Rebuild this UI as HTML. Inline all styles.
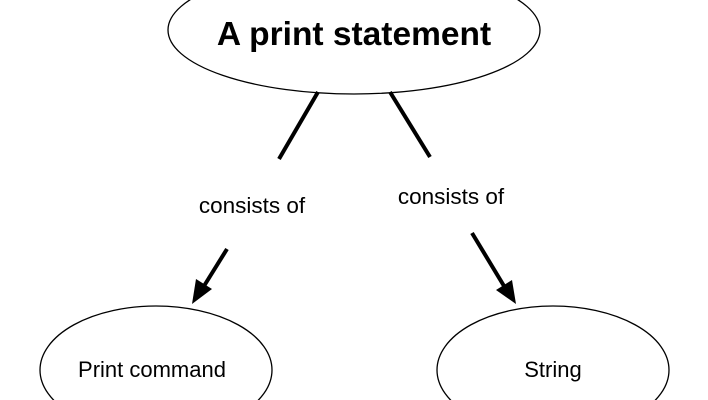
<!DOCTYPE html>
<html><head><meta charset="utf-8"><style>
html,body{margin:0;padding:0;background:#fff;overflow:hidden;width:708px;height:400px;}
svg{display:block;}
text{font-family:"Liberation Sans",Arial,sans-serif;fill:#000;}
</style></head><body>
<svg width="708" height="400" viewBox="0 0 708 400" xmlns="http://www.w3.org/2000/svg">
<rect width="708" height="400" fill="#fff"/>
<ellipse cx="354" cy="30" rx="186" ry="64" fill="none" stroke="#000" stroke-width="1.3"/>
<text x="354" y="45" font-size="33.5" font-weight="bold" text-anchor="middle">A print statement</text>
<ellipse cx="156" cy="370" rx="116" ry="64" fill="none" stroke="#000" stroke-width="1.3"/>
<text x="152" y="377" font-size="22" text-anchor="middle">Print command</text>
<ellipse cx="553" cy="370" rx="116" ry="64" fill="none" stroke="#000" stroke-width="1.3"/>
<text x="553" y="377" font-size="22" text-anchor="middle">String</text>
<line x1="318" y1="92" x2="279" y2="159" stroke="#000" stroke-width="4"/>
<line x1="390" y1="92" x2="430" y2="157" stroke="#000" stroke-width="4"/>
<text x="252" y="213" font-size="22.5" text-anchor="middle">consists of</text>
<text x="451" y="204" font-size="22.5" text-anchor="middle">consists of</text>
<line x1="227" y1="249" x2="204" y2="286" stroke="#000" stroke-width="4"/>
<polygon points="192,304 196,279 212,289" fill="#000"/>
<line x1="472" y1="233" x2="504" y2="286" stroke="#000" stroke-width="4"/>
<polygon points="516,304 496,290 512,280" fill="#000"/>
</svg>
</body></html>
